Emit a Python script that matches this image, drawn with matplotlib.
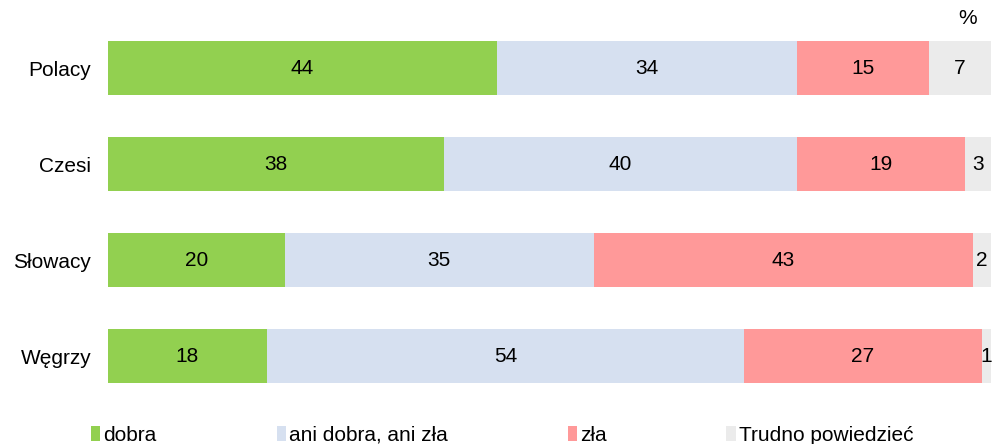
import matplotlib.pyplot as plt
import numpy as np

plt.rcParams['font.family'] = ['Liberation Sans', 'DejaVu Sans']

# --- data ---
groups = ['Polacy', 'Czesi', 'Słowacy', 'Węgrzy']
series_names = ['dobra', 'ani dobra, ani zła', 'zła', 'Trudno powiedzieć']
dobra = [44, 38, 20, 18]
ani = [34, 40, 35, 54]
zla = [15, 19, 43, 27]
trudno = [7, 3, 2, 1]
colors = ['#92D050', '#D6E0F0', '#FF9999', '#EBEBEB']

fig = plt.figure(figsize=(9.92, 4.44), dpi=100)
ax = fig.add_axes([108 / 992, 1 - 404 / 444, 883 / 992, 384 / 444])

y = np.arange(len(groups))
left = np.zeros(len(groups))
handles = []
for vals, name, col in zip([dobra, ani, zla, trudno], series_names, colors):
    bars = ax.barh(y, vals, left=left, height=0.56, color=col, label=name)
    handles.append(bars)
    for yi, v, l in zip(y, vals, left):
        ax.text(l + v / 2, yi, str(v), ha='center', va='center',
                fontsize=15, color='black', clip_on=False)
    left += np.array(vals)

ax.set_xlim(0, 100)
ax.set_ylim(3.5, -0.5)
ax.set_yticks(y)
ax.set_yticklabels(groups, fontsize=15)
ax.tick_params(axis='y', length=0, pad=12)
ax.set_xticks([])
for s in ax.spines.values():
    s.set_visible(False)

fig.text(968 / 992, 1 - 18 / 444, '%', ha='center', va='center', fontsize=15)

fig.legend(handles=handles, labels=series_names, loc='center left',
           bbox_to_anchor=(91 / 992, 1 - 435 / 444), ncol=4, frameon=False,
           fontsize=15, handlelength=0.45, handleheight=0.75, handletextpad=0.15,
           columnspacing=5.75, borderaxespad=0, borderpad=0)

fig.savefig('out.png', dpi=100)
